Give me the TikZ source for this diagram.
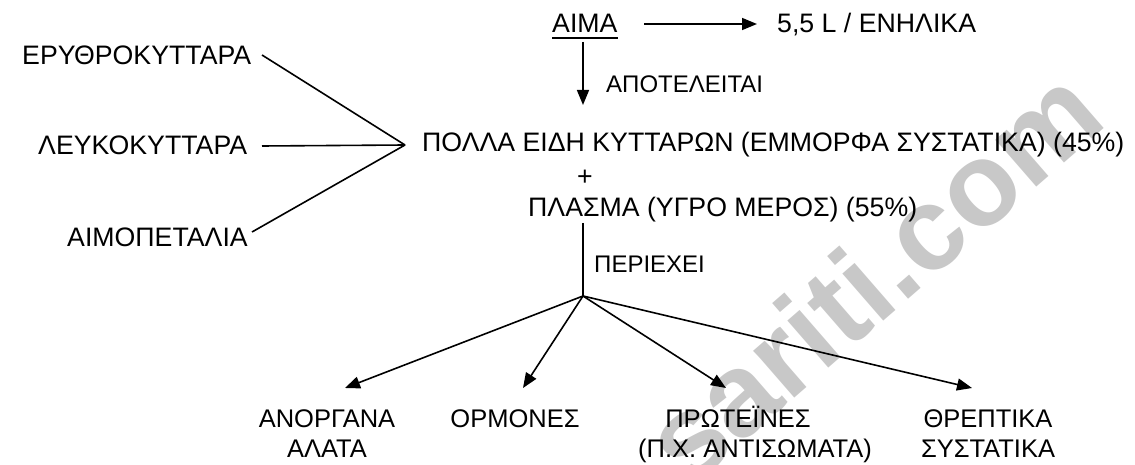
\documentclass[tikz,border=0pt]{standalone}
\usepackage{fontspec}
\setmainfont{Liberation Sans}
\usetikzlibrary{arrows.meta}
\definecolor{wm}{RGB}{200,200,200}
\tikzset{
  big/.style={inner sep=0pt, font=\fontsize{26.7}{30}\selectfont},
  lbl/.style={inner sep=0pt, font=\fontsize{24}{28}\selectfont},
  bot/.style={inner sep=0pt, align=center, font=\fontsize{25.5}{30}\selectfont},
  ln/.style={line width=1.6pt},
  arr/.style={line width=1.6pt, -{Triangle[length=15pt,width=12pt]}},
}
\begin{document}
\begin{tikzpicture}[x=1pt,y=-1pt]
\useasboundingbox (0,0) rectangle (1135,465);
% watermark
\node[rotate=41, text=wm, inner sep=0pt, font=\fontsize{118}{118}\bfseries] (wmark) at (872,275) {sariti.com};
% top
\node[big, anchor=base west] (aima) at (552,33) {ΑΙΜΑ};
\draw[ln] ([yshift=-5]aima.base west) -- ([yshift=-5]aima.base east);
\node[big, anchor=base west] (adult) at (777,33) {5,5 L / ΕΝΗΛΙΚΑ};
\coordinate (r1) at (644,24);
\coordinate (r2) at (757,24);
\draw[arr] (r1) -- (r2);
\coordinate (d1) at (583,42);
\coordinate (d2) at (583,105);
\draw[arr] (d1) -- (d2);
\node[lbl, anchor=base west] (apot) at (606,93) {ΑΠΟΤΕΛΕΙΤΑΙ};
% middle
\node[big, anchor=base west] (cells) at (422,152) {ΠΟΛΛΑ ΕΙΔΗ ΚΥΤΤΑΡΩΝ (ΕΜΜΟΡΦΑ ΣΥΣΤΑΤΙΚΑ) (45\%)};
\node[big, anchor=base] (plus) at (585,186) {+};
\node[big, anchor=base west] (plasma) at (528,217) {ΠΛΑΣΜΑ (ΥΓΡΟ ΜΕΡΟΣ) (55\%)};
% left
\node[big, anchor=base west] (ery) at (22,65) {ΕΡΥΘΡΟΚΥΤΤΑΡΑ};
\node[big, anchor=base west] (leu) at (38,155) {ΛΕΥΚΟΚΥΤΤΑΡΑ};
\node[big, anchor=base west] (aim) at (67,247) {ΑΙΜΟΠΕΤΑΛΙΑ};
\coordinate (conv) at (405,145);
\coordinate (e1) at (262,55);
\coordinate (l1) at (262,146);
\coordinate (m1) at (252,232);
\draw[ln] (e1) -- (conv);
\draw[ln] (l1) -- (conv);
\draw[ln] (m1) -- (conv);
% plasma contents
\coordinate (v1) at (583,223);
\coordinate (junc) at (583,296);
\draw[ln] (v1) -- (junc);
\node[lbl, anchor=base west] (peri) at (594,272) {ΠΕΡΙΕΧΕΙ};
\node[bot, anchor=base] (anorg) at (327,457) {ΑΝΟΡΓΑΝΑ\\ΑΛΑΤΑ};
\node[bot, anchor=base] (orm) at (515,427) {ΟΡΜΟΝΕΣ};
\node[bot, anchor=base] (prot) at (755,457) {ΠΡΩΤΕΪΝΕΣ\hspace*{34pt}\\(Π.Χ. ΑΝΤΙΣΩΜΑΤΑ)};
\node[bot, anchor=base] (threp) at (988,457) {ΘΡΕΠΤΙΚΑ\\ΣΥΣΤΑΤΙΚΑ};
\coordinate (t1) at (345,388);
\coordinate (t2) at (523,388);
\coordinate (t3) at (726,388);
\coordinate (t4) at (972,388);
\draw[arr] (junc) -- (t1);
\draw[arr] (junc) -- (t2);
\draw[arr] (junc) -- (t3);
\draw[arr] (junc) -- (t4);
\end{tikzpicture}
\end{document}
